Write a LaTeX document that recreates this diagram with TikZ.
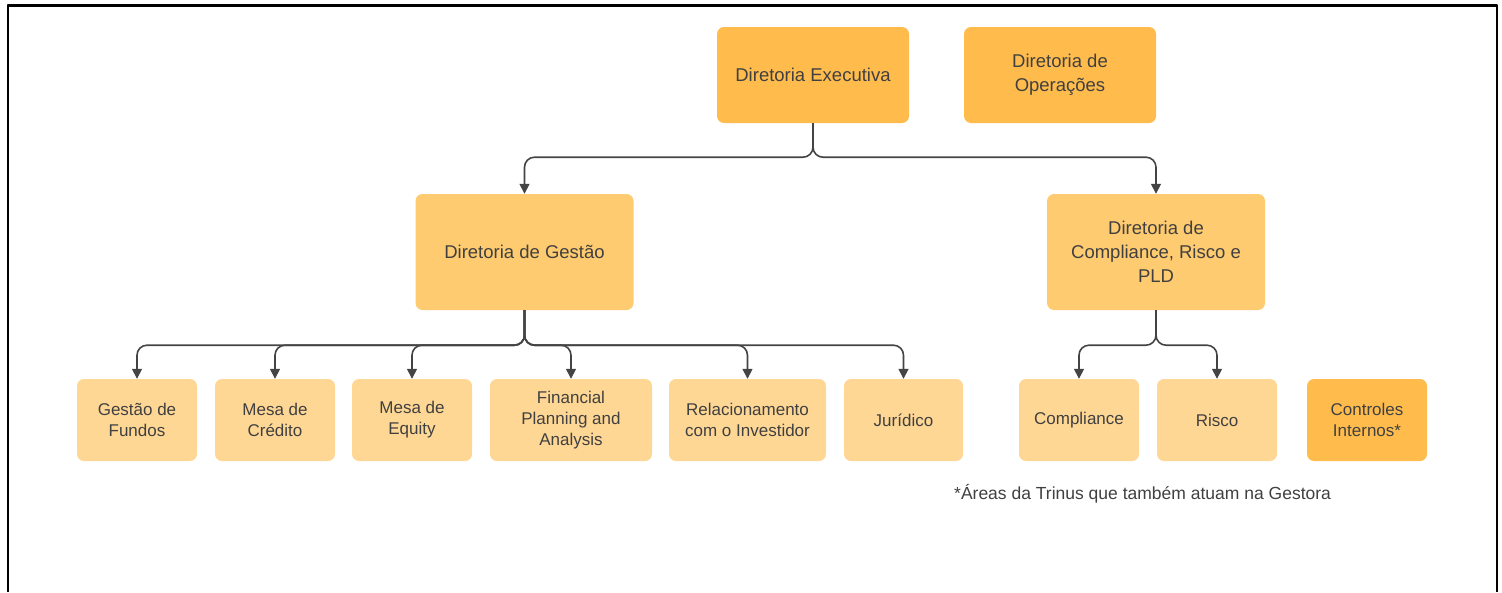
\documentclass[tikz,border=0pt]{standalone}
\usepackage{fontspec}
\setmainfont{Liberation Sans}
\usetikzlibrary{arrows.meta}

\definecolor{dirtop}{HTML}{FFBC4D}
\definecolor{dirmid}{HTML}{FFCB70}
\definecolor{areabox}{HTML}{FFD795}
\definecolor{txtgray}{HTML}{404040}
\definecolor{linegray}{HTML}{444444}

\begin{document}
\begin{tikzpicture}[x=1pt, y=-1pt, line join=round, >={Triangle[length=10pt,width=10pt]},
    box/.style={rounded corners=7pt, align=center, text=txtgray, inner sep=2pt},
    topbox/.style={box, fill=dirtop, minimum width=192pt, minimum height=96pt, font=\fontsize{18.5}{24}\selectfont},
    midbox/.style={box, fill=dirmid, minimum width=218pt, minimum height=116pt, font=\fontsize{18.5}{24}\selectfont},
    areabox/.style={box, fill=areabox, minimum width=120pt, minimum height=82pt, font=\fontsize{17}{21}\selectfont},
    link/.style={->, line width=1.6pt, draw=linegray, rounded corners=10pt}]
        \useasboundingbox (0,0) rectangle (1502,592);

        % Kader
        \draw[line width=2pt] (8,592) -- (8,5) -- (1497,5) -- (1497,592);
        \draw[line width=3pt] (8,5) -- (1497,5);

        % Directies
        \node[topbox] (exec) at (813,75) {Diretoria Executiva};
        \node[topbox] (ops) at (1060,75) {Diretoria de\\Operações};
        \node[midbox] (gestao) at (524.5,252) {Diretoria de Gestão};
        \node[midbox] (cmp) at (1156,252) {Diretoria de\\Compliance, Risco e\\PLD};

        % Areas
        \node[areabox] (fundos) at (137,420) {Gestão de\\Fundos};
        \node[areabox] (credito) at (275,420) {Mesa de\\Crédito};
        \node[areabox] (equity) at (412,420) {Mesa de\\Equity};
        \node[areabox, minimum width=162pt] (fpa) at (571,420) {Financial\\Planning and\\Analysis};
        \node[areabox, minimum width=157pt] (rel) at (747.5,420) {Relacionamento\\com o Investidor};
        \node[areabox, minimum width=119pt] (jur) at (903.5,420) {Jurídico};
        \node[areabox] (compl) at (1079,420) {Compliance};
        \node[areabox] (risco) at (1217,420) {Risco};
        \node[areabox, fill=dirtop] (ctrl) at (1367,420) {Controles\\Internos*};

        % Verbindingen
        \draw[link] (exec.south) -- ++(0,34) -| (gestao.north);
        \draw[link] (exec.south) -- ++(0,34) -| (cmp.north);
        \foreach \c in {fundos,credito,equity,fpa,rel,jur}
            \draw[link] (gestao.south) -- ++(0,35) -| (\c.north);
        \foreach \c in {compl,risco}
            \draw[link] (cmp.south) -- ++(0,35) -| (\c.north);

        % Voetnoot
        \node[anchor=west, text=txtgray, inner sep=0pt, font=\fontsize{17.5}{20}\selectfont] (note) at (954,494) {*Áreas da Trinus que também atuam na Gestora};
\end{tikzpicture}
\end{document}
